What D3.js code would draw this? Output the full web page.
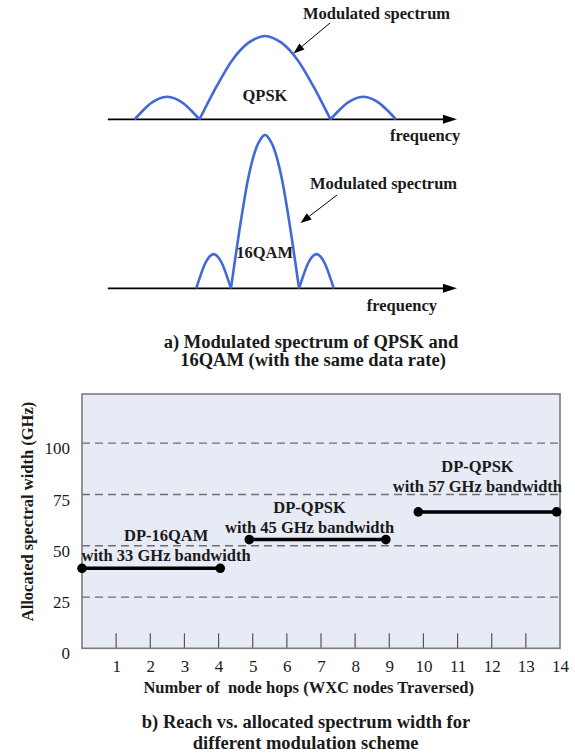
<!DOCTYPE html>
<html>
<head>
<meta charset="utf-8">
<script src="https://cdn.jsdelivr.net/npm/d3@7"></script>
<style>
  html, body { margin: 0; padding: 0; background: #ffffff; }
  svg { display: block; }
  text { font-family: "Liberation Serif", "Times New Roman", serif; fill: #1a1a1a; }
</style>
</head>
<body>
<div id="chart"></div>
<script>
// ---------- DATA ----------
// Panel a) : spectrum lobes [startFreq, endFreq, peakAmplitude] (normalised frequency units)
const qpskLobes = [[-1.99, -1.0, 0.27], [-1.0, 1.0, 1.0], [1.0, 2.0, 0.27]];
const qamLobes  = [[-1.05, -0.52, 0.41], [-0.52, 0.52, 1.84], [0.52, 1.05, 0.41]];
// relative height profile across one lobe
const lobeProfile = [0, 0.38, 0.71, 0.92, 1, 0.92, 0.71, 0.38, 0];
const freqAxisExtent = [-2.4, 2.93];

// Panel b) : reach vs allocated spectrum
const hopTicks = [1, 2, 3, 4, 5, 6, 7, 8, 9, 10, 11, 12, 13, 14];
const widthTicks = [0, 25, 50, 75, 100];
const gridValues = [25, 50, 75, 100];
const segStart = [0, 4.9, 9.85];
const segEnd   = [4.05, 8.9, 13.9];
const segWidth = [39, 53, 66.5];
const modNames = ["DP-16QAM", "DP-QPSK", "DP-QPSK"];
const bwNames  = ["with 33 GHz bandwidth", "with 45 GHz bandwidth", "with 57 GHz bandwidth"];

// ---------- LAYOUT ----------
const W = 575, H = 756;
const svg = d3.select("#chart").append("svg").attr("width", W).attr("height", H);
svg.append("rect").attr("width", W).attr("height", H).attr("fill", "#fff");

const blue = "#4169d8";
const fx = d3.scaleLinear().domain([-1, 1]).range([199.5, 330.5]);
const ampPx = 83.3;

function drawSpectrum(lobes, axisY, label, labelPos, annText, annPos, arrow, freqPos) {
  const fy = d3.scaleLinear().domain([0, 1]).range([axisY, axisY - ampPx]);
  const g = svg.append("g");
  // axis line + arrow head
  const x0 = fx(freqAxisExtent[0]), x1 = fx(freqAxisExtent[1]);
  g.append("line").attr("x1", x0).attr("x2", x1 - 10).attr("y1", axisY).attr("y2", axisY)
    .attr("stroke", "#000").attr("stroke-width", 1.8);
  g.append("path").attr("d", `M${x1},${axisY} L${x1 - 14},${axisY - 4.5} L${x1 - 14},${axisY + 4.5} Z`).attr("fill", "#000");
  // lobes
  const line = d3.line().x(d => d[0]).y(d => d[1]).curve(d3.curveCardinal.tension(0.2));
  lobes.forEach(([a, b, p]) => {
    const pts = lobeProfile.map((r, i) => {
      const f = a + (b - a) * i / (lobeProfile.length - 1);
      return [fx(f), fy(p * r)];
    });
    g.append("path").attr("d", line(pts)).attr("fill", "none")
      .attr("stroke", blue).attr("stroke-width", 2.6).attr("stroke-linejoin", "round");
  });
  g.append("text").attr("x", labelPos[0]).attr("y", labelPos[1]).attr("text-anchor", "middle")
    .attr("font-weight", "bold").attr("font-size", 16.5).text(label);
  g.append("text").attr("x", annPos[0]).attr("y", annPos[1])
    .attr("font-weight", "bold").attr("font-size", 16.5).text(annText);
  g.append("text").attr("x", freqPos[0]).attr("y", freqPos[1])
    .attr("font-weight", "bold").attr("font-size", 16.5).text("frequency");
  // annotation arrow
  const [ax1, ay1, ax2, ay2] = arrow;
  const ang = Math.atan2(ay2 - ay1, ax2 - ax1);
  const hl = 11, hw = 4;
  const bx = ax2 - hl * Math.cos(ang), by = ay2 - hl * Math.sin(ang);
  g.append("line").attr("x1", ax1).attr("y1", ay1).attr("x2", bx).attr("y2", by)
    .attr("stroke", "#000").attr("stroke-width", 1);
  g.append("path").attr("d",
    `M${ax2},${ay2} L${bx + hw * Math.sin(ang)},${by - hw * Math.cos(ang)} L${bx - hw * Math.sin(ang)},${by + hw * Math.cos(ang)} Z`)
    .attr("fill", "#000");
}

drawSpectrum(qpskLobes, 119.3, "QPSK", [265, 100.5], "Modulated spectrum", [303, 19], [330, 23, 293.5, 53.5], [390, 140.5]);
drawSpectrum(qamLobes, 288.3, "16QAM", [264.7, 258.2], "Modulated spectrum", [310, 189], [337, 195, 300.5, 223], [366.7, 310.5]);

// caption a
svg.append("text").attr("x", 311).attr("y", 347.5).attr("text-anchor", "middle")
  .attr("font-weight", "bold").attr("font-size", 18.5).text("a) Modulated spectrum of QPSK and");
svg.append("text").attr("x", 313).attr("y", 366).attr("text-anchor", "middle")
  .attr("font-weight", "bold").attr("font-size", 18.5).text("16QAM (with the same data rate)");

// ---------- Panel b ----------
const x = d3.scaleLinear().domain([0, 14]).range([82, 560]);
const y = d3.scaleLinear().domain([0, 124]).range([648.3, 394]);

const pb = svg.append("g");
pb.append("rect").attr("x", x(0)).attr("y", y(124)).attr("width", x(14) - x(0)).attr("height", y(0) - y(124))
  .attr("fill", "#e7ebf5").attr("stroke", "none");

// dashed grid
pb.selectAll(".grid").data(gridValues).join("line").attr("class", "grid")
  .attr("x1", x(0)).attr("x2", x(14)).attr("y1", d => y(d)).attr("y2", d => y(d))
  .attr("stroke", "#6e6e6e").attr("stroke-width", 1.3).attr("stroke-dasharray", "8,5");

// inner ticks
pb.selectAll(".itick").data(hopTicks.filter(d => d < 14)).join("line").attr("class", "itick")
  .attr("x1", d => x(d)).attr("x2", d => x(d)).attr("y1", y(0)).attr("y2", y(0) - 15)
  .attr("stroke", "#555").attr("stroke-width", 1.2);

// frame
pb.append("rect").attr("x", x(0)).attr("y", y(124)).attr("width", x(14) - x(0)).attr("height", y(0) - y(124))
  .attr("fill", "none").attr("stroke", "#7a7a7a").attr("stroke-width", 1.6);

// axes labels via d3 axes
const xAxis = d3.axisBottom(x).tickValues(hopTicks).tickSize(0).tickPadding(10);
const gx = pb.append("g").attr("transform", `translate(0,${y(0)})`).call(xAxis);
gx.select(".domain").remove();
gx.selectAll("text").attr("font-size", 17).attr("fill", "#222")
  .attr("font-family", "Liberation Serif, Times New Roman, serif").attr("dy", "0.8em");

const yAxis = d3.axisLeft(y).tickValues(widthTicks).tickSize(0).tickPadding(12);
const gy = pb.append("g").attr("transform", `translate(${x(0)},0)`).call(yAxis);
gy.select(".domain").remove();
gy.selectAll("text").attr("font-size", 17).attr("fill", "#222")
  .attr("font-family", "Liberation Serif, Times New Roman, serif").attr("dy", "0.62em");

// segments
const segs = segStart.map((s, i) => ({ s, e: segEnd[i], v: segWidth[i], m: modNames[i], b: bwNames[i] }));
pb.selectAll(".seg").data(segs).join("line").attr("class", "seg")
  .attr("x1", d => x(d.s)).attr("x2", d => x(d.e)).attr("y1", d => y(d.v)).attr("y2", d => y(d.v))
  .attr("stroke", "#000").attr("stroke-width", 3.5);
pb.selectAll(".dot").data(segs.flatMap(d => [[d.s, d.v], [d.e, d.v]])).join("circle").attr("class", "dot")
  .attr("cx", d => x(d[0])).attr("cy", d => y(d[1])).attr("r", 4.8).attr("fill", "#000");

// segment labels (layout offsets in px: dx from segment middle, dy of first line)
const labelOffsets = [[15, -27], [-8, -27], [-10, -40]];
segs.forEach((d, i) => {
  const cx = (x(d.s) + x(d.e)) / 2 + labelOffsets[i][0];
  const cy = y(d.v) + labelOffsets[i][1];
  pb.append("text").attr("x", cx).attr("y", cy).attr("text-anchor", "middle")
    .attr("font-weight", "bold").attr("font-size", 16.5).text(d.m);
  pb.append("text").attr("x", cx).attr("y", cy + 20).attr("text-anchor", "middle")
    .attr("font-weight", "bold").attr("font-size", 16.5).text(d.b);
});

// axis titles
svg.append("text").attr("transform", `translate(32.5,511.5) rotate(-90)`).attr("text-anchor", "middle")
  .attr("font-weight", "bold").attr("font-size", 16.5).text("Allocated spectral width (GHz)");
svg.append("text").attr("x", 308.7).attr("y", 693).attr("text-anchor", "middle")
  .attr("font-weight", "bold").attr("font-size", 16.5).attr("xml:space", "preserve")
  .style("white-space", "pre").text("Number of  node hops (WXC nodes Traversed)");

// caption b
svg.append("text").attr("x", 306).attr("y", 728).attr("text-anchor", "middle")
  .attr("font-weight", "bold").attr("font-size", 18.5).text("b) Reach vs. allocated spectrum width for");
svg.append("text").attr("x", 305.7).attr("y", 748.5).attr("text-anchor", "middle")
  .attr("font-weight", "bold").attr("font-size", 18.5).text("different modulation scheme");
</script>
</body>
</html>
